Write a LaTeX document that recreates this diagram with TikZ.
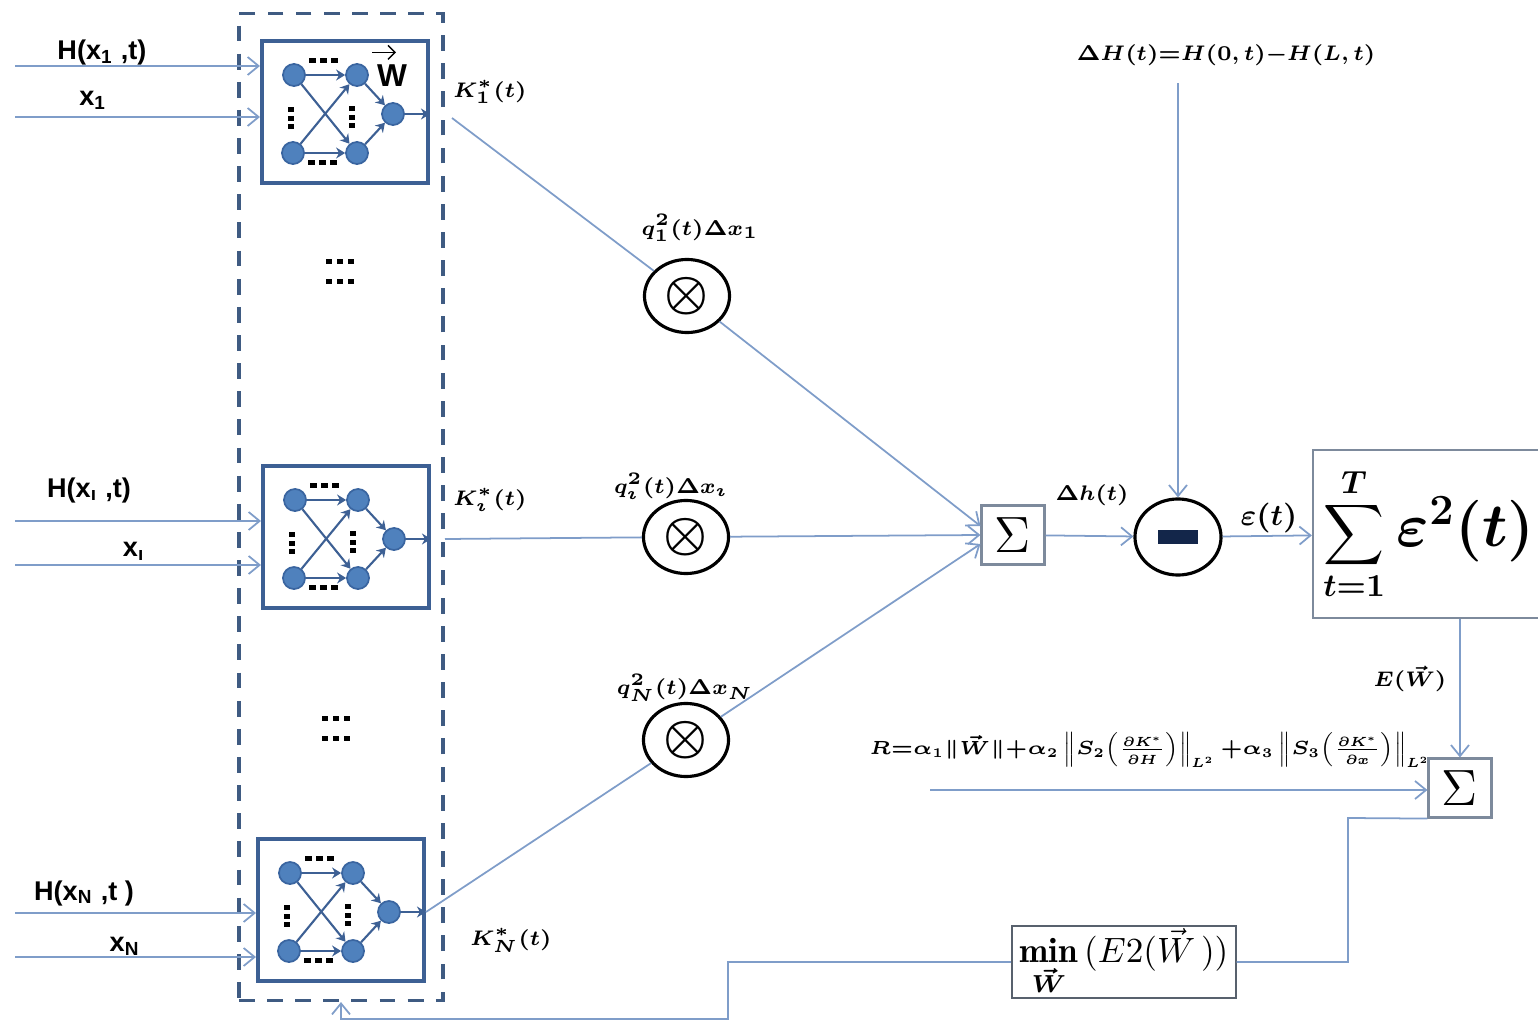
\RequirePackage{fix-cm}
\documentclass[tikz,border=0pt]{standalone}
\usepackage{amsmath,bm}
\usepackage{fontspec}
\setsansfont{Liberation Sans}
\usetikzlibrary{arrows.meta, positioning, shapes.geometric, calc}
\definecolor{lineBlue}{HTML}{7F9DC9}
\definecolor{netBlue}{HTML}{3D6094}
\definecolor{frameBlue}{HTML}{3F5B82}
\definecolor{cellFill}{HTML}{4F81BD}
\definecolor{cellEdge}{HTML}{3A65A0}
\definecolor{boxGray}{HTML}{7D8A9C}
\definecolor{barNavy}{HTML}{13264A}

\begin{document}
\begin{tikzpicture}[x=0.01cm, y=-0.01cm,
  every node/.style={inner sep=0pt},
  conn/.style={draw=lineBlue, line width=0.5pt},
  arr/.style={-{Straight Barb[length=1.1mm,width=1.8mm]}},
  inlbl/.style={font=\sffamily\bfseries\fontsize{7.7}{9}\selectfont},
  mlbl/.style={font=\fontsize{6}{7}\selectfont\boldmath},
  netbox/.style={draw=netBlue, line width=1.1pt, minimum width=1.66cm, minimum height=1.42cm},
  cell/.style={circle, fill=cellFill, draw=cellEdge, line width=0.5pt, minimum size=0.22cm},
  wire/.style={draw=netBlue, line width=0.6pt, -{Stealth[length=0.9mm,width=1.1mm]}},
  mult/.style={ellipse, draw, line width=0.9pt, minimum width=0.85cm, minimum height=0.73cm,
    font=\fontsize{14}{16}\selectfont\boldmath},
  sumbox/.style={draw=boxGray, line width=0.6pt, minimum width=0.63cm, minimum height=0.59cm,
    font=\fontsize{14.5}{16}\selectfont}]
\useasboundingbox (0,0) rectangle (1538,1021);

\node[draw=frameBlue, line width=1pt, dash pattern=on 4.5pt off 3.5pt,
  minimum width=2.04cm, minimum height=9.86cm] (frame) at (341,507) {};

\foreach \i/\cx/\cy/\ya/\yb in {1/345/112/66/117, 2/346/537/521/565, 3/341/910/913/957}{
  \node[netbox] (nn\i) at (\cx,\cy) {};
  \node[cell] (a\i) at (\cx-51,\cy-37) {};
  \node[cell] (b\i) at (\cx-52,\cy+41) {};
  \node[cell] (c\i) at (\cx+12,\cy-37) {};
  \node[cell] (d\i) at (\cx+12,\cy+41) {};
  \node[cell] (o\i) at (\cx+48,\cy+2) {};
  \draw[wire] (a\i) -- (c\i); \draw[wire] (a\i) -- (d\i);
  \draw[wire] (b\i) -- (c\i); \draw[wire] (b\i) -- (d\i);
  \draw[wire] (c\i) -- (o\i); \draw[wire] (d\i) -- (o\i);
  \draw[wire] (o\i) -- (o\i -| nn\i.east);
  \foreach \d in {-11,0,11}{
    \fill (\cx-22+\d,\cy-52) +(-3.5,-2.5) rectangle +(3.5,2.5);
    \fill (\cx-23+\d,\cy+50) +(-3.5,-2.5) rectangle +(3.5,2.5);
    \fill (\cx-54,\cy+6+0.8*\d) +(-3,-2.5) rectangle +(3,2.5);
    \fill (\cx+7,\cy+5+0.8*\d) +(-3,-2.5) rectangle +(3,2.5);}
  \coordinate (h\i) at (15,\ya); \coordinate (x\i) at (15,\yb);
  \draw[conn,arr] (h\i) -- (h\i -| nn\i.west);
  \draw[conn,arr] (x\i) -- (x\i -| nn\i.west);
}
\foreach \cx/\cy in {340/271, 336/728}
  \foreach \d in {-11,0,11}{
    \fill (\cx+\d,\cy-10) +(-3,-2.5) rectangle +(3,2.5);
    \fill (\cx+\d,\cy+10) +(-3,-2.5) rectangle +(3,2.5);}

\node[inlbl] at (102,53) {H(x\textsubscript{1} ,t)};
\node[inlbl] at (93,100) {x\textsubscript{1}};
\node[inlbl] at (89,490) {H(x\textsubscript{ı} ,t)};
\node[inlbl] at (134,551) {x\textsubscript{ı}};
\node[inlbl] at (84,893) {H(x\textsubscript{N} ,t )};
\node[inlbl] at (125,946) {x\textsubscript{N}};
\node[inlbl, font=\sffamily\bfseries\fontsize{9}{10}\selectfont] (wlbl) at (392,76) {W};
\draw[line width=0.4pt, -{Straight Barb[length=0.7mm,width=1.4mm]}]
  ($(wlbl.north)+(-20,-12)$) -- ++(24,0);

\node[mlbl] at (490,92) {$K_1^{*}(t)$};
\node[mlbl] at (490,500) {$K_\imath^{*}(t)$};
\node[mlbl] at (511,940) {$K_N^{*}(t)$};

\node[mult] (mul1) at (687,296) {$\otimes$};
\node[mult] (mul2) at (686,537) {$\otimes$};
\node[mult] (mul3) at (686,740) {$\otimes$};
\node[mlbl] at (700,228) {$q_1^{2}(t)\Delta x_1$};
\node[mlbl] at (671,486) {$q_\imath^{2}(t)\Delta x_\imath$};
\node[mlbl] at (685,688) {$q_N^{2}(t)\Delta x_N$};

\node[sumbox] (sumK) at (1013,535) {$\Sigma$};
\coordinate (k1) at (452,118); \coordinate (k2) at (445,539);
\draw[conn] (k1) -- (mul1);
\draw[conn,arr] (mul1) -- ([yshift=0.09cm]sumK.west);
\draw[conn] (k2) -- (mul2);
\draw[conn,arr] (mul2) -- (sumK.west);
\draw[conn] (o3 -| nn3.east) -- (mul3);
\draw[conn,arr] (mul3) -- ([yshift=-0.09cm]sumK.west);

\node[ellipse, draw, line width=0.9pt, minimum width=0.86cm, minimum height=0.76cm] (diff) at (1178,537) {};
\fill[barNavy] ($(diff)+(-20,-7)$) rectangle ($(diff)+(20,7)$);
\node[mlbl] at (1226,55) {$\Delta H(t){=}H(0,t){-}H(L,t)$};
\coordinate (dHfoot) at (1178,83);
\draw[conn,arr] (dHfoot) -- (diff);
\draw[conn,arr] (sumK) -- (diff);
\node[mlbl] at (1092,495) {$\Delta h(t)$};
\node[mlbl, font=\fontsize{8.5}{9}\selectfont\boldmath] at (1269,518) {$\varepsilon(t)$};

\node[draw=boxGray, line width=0.6pt, minimum width=2.32cm, minimum height=1.68cm,
  font=\fontsize{13}{15}\selectfont\boldmath] (errsum) at (1429,534)
  {$\displaystyle\sum_{t=1}^{T}$\fontsize{17.5}{19}\selectfont$\,\varepsilon^{2}(t)$};
\draw[conn,arr] (diff) -- (errsum);

\node[sumbox] (sumR) at (1460,788) {$\Sigma$};
\draw[conn,arr] (errsum.south -| sumR.north) -- (sumR.north);
\node[mlbl] at (1410,679) {$E(\vec{W})$};
\node[mlbl, font=\fontsize{5.4}{6}\selectfont\boldmath] at (1150,750)
  {$R{=}\alpha_1\|\vec{W}\|{+}\alpha_2\left\|S_2\!\left(\frac{\partial K^{*}}{\partial H}\right)\right\|_{L^2}{+}\alpha_3\left\|S_3\!\left(\frac{\partial K^{*}}{\partial x}\right)\right\|_{L^2}$};
\coordinate (Rfoot) at (930,790);
\draw[conn,arr] (Rfoot) -- (Rfoot -| sumR.west);

\node[draw=boxGray!70!black, line width=0.6pt, minimum width=2.23cm, minimum height=0.72cm,
  font=\fontsize{10}{12}\selectfont] (minbox) at (1124,962)
  {$\displaystyle\mathop{\mathbf{min}}_{\boldsymbol{\vec W}}\,(E2(\vec{W}\,))$};
\coordinate (fbR) at (1348,818);
\draw[conn] (sumR.south west) -- (fbR) |- (minbox.east);
\coordinate (fbL) at (728,1019);
\draw[conn,arr] (minbox.west) -| (fbL) -| (frame.south);
\end{tikzpicture}
\end{document}
